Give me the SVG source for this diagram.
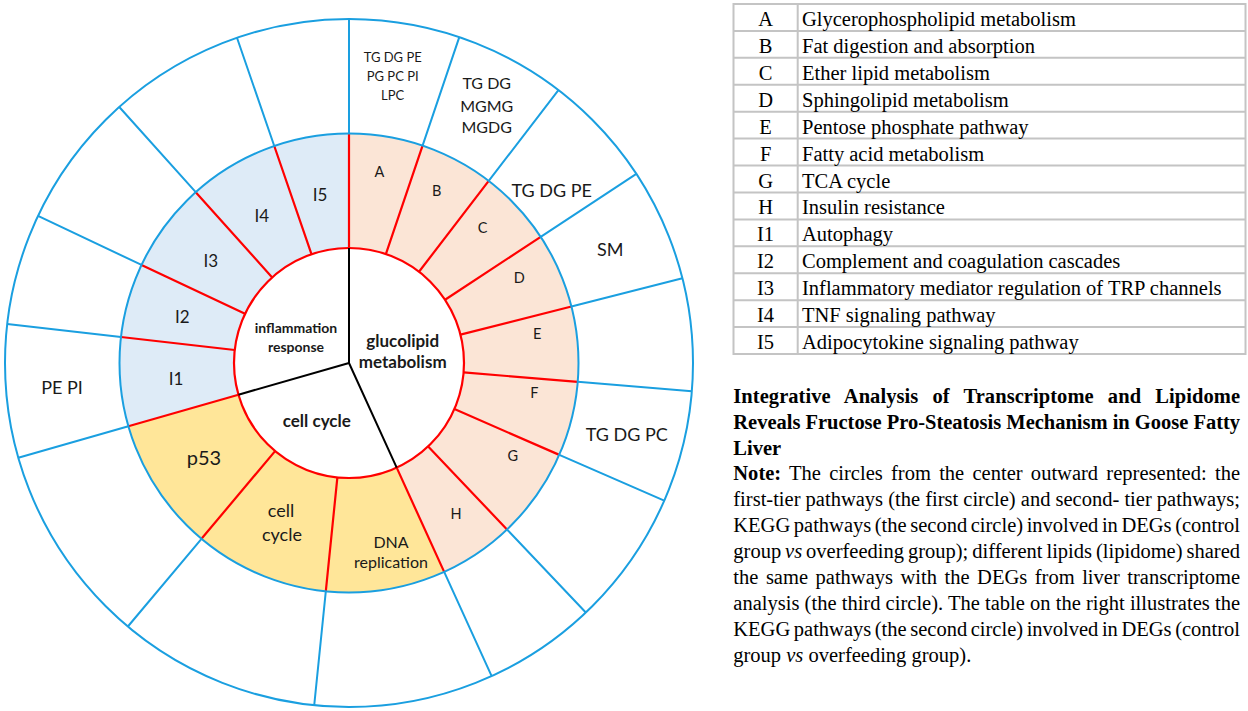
<svg xmlns="http://www.w3.org/2000/svg" width="1248" height="711" viewBox="0 0 1248 711">
<style>
.blue{stroke:#1A9FE0;stroke-width:2;fill:none}
.red{stroke:#FF0000;stroke-width:2.2;fill:none}
.blk{stroke:#000;stroke-width:2;fill:none}
.c{font-family:Lato,"Open Sans","Liberation Sans",sans-serif;fill:#1a1a1a;text-anchor:middle}
.b{font-weight:bold}
.s14{font-size:14.5px}.s17{font-size:17px}
.tb{font-family:"Liberation Serif","Times New Roman",serif;font-size:20.5px;fill:#000}
.tl{text-anchor:middle}
.grid{stroke:#C4C4C4;stroke-width:2;fill:none}
</style>
<rect width="1248" height="711" fill="#fff"/>

<g id="ring-glucolipid">
<path d="M349 133.5 A229.5 229.5 0 0 1 444.17 571.85 L396.69 467.65 A115 115 0 0 0 349 248 Z" fill="#FBE5D6"/>
<text class="c s14" x="379.3" y="176.7">A</text>
<text class="c s14" x="436.7" y="196">B</text>
<text class="c s14" x="482.7" y="233.3">C</text>
<text class="c s14" x="519.3" y="282.7">D</text>
<text class="c s14" x="537.3" y="339">E</text>
<text class="c s14" x="534.3" y="397.7">F</text>
<text class="c s14" x="512.7" y="460.7">G</text>
<text class="c s14" x="456" y="519">H</text>
</g>
<g id="ring-cellcycle">
<path d="M444.17 571.85 A229.5 229.5 0 0 1 128.38 426.25 L238.45 394.69 A115 115 0 0 0 396.69 467.65 Z" fill="#FFE699"/>
<text class="c" font-size="20" x="204" y="465">p53</text>
<text class="c" font-size="18" x="281" y="516.7">cell</text>
<text class="c" font-size="18" x="282" y="540.7">cycle</text>
<text class="c" font-size="16" x="391" y="547.7">DNA</text>
<text class="c" font-size="16" x="391" y="567.7">replication</text>
</g>
<g id="ring-inflammation">
<path d="M128.38 426.25 A229.5 229.5 0 0 1 349 133.5 L349 248 A115 115 0 0 0 238.45 394.69 Z" fill="#DEEBF7"/>
<text class="c s17" x="176" y="385">I1</text>
<text class="c s17" x="182.3" y="323.3">I2</text>
<text class="c s17" x="210.7" y="267.3">I3</text>
<text class="c s17" x="261.7" y="222.3">I4</text>
<text class="c s17" x="320" y="201">I5</text>
</g>

<g id="connectors">
<g class="red">
<path d="M349 248V133.5M385.87 254.07L422.58 145.62M419.01 271.76L488.72 180.91M445.06 299.77L540.7 236.82M460.46 334.69L571.43 306.5M463.61 372.42L577.72 381.8M454.39 409.03L559.31 454.87M428.17 446.42L506.99 529.48M396.69 467.65L444.17 571.85M337.37 477.41L325.8 591.33M275.08 451.09L201.48 538.8M238.45 394.69L128.38 426.25M234.74 349.98L120.97 337.02M245.03 313.85L141.51 264.91M272.2 277.41L195.74 192.18M311.56 254.27L274.27 146"/>
</g>
<g class="blue">
<path d="M349 133.5V19M422.58 145.62L459.29 37.16M488.72 180.91L558.43 90.07M540.7 236.82L636.34 173.87M571.43 306.5L682.4 278.31M577.72 381.8L691.83 391.17M559.31 454.87L664.24 500.7M506.99 529.48L585.81 612.54M444.17 571.85L491.66 676.04M325.8 591.33L314.22 705.25M201.48 538.8L127.88 626.5M128.38 426.25L18.31 457.81M120.97 337.02L7.2 324.06M141.51 264.91L37.99 215.97M195.74 192.18L119.28 106.96M274.27 146L236.99 37.75"/>
<circle cx="349" cy="363" r="344"/>
<circle cx="349" cy="363" r="229.5"/>
</g>
<circle class="red" cx="349" cy="363" r="115"/>
<path class="blk" d="M349 363V248M349 363L396.69 467.65M349 363L238.45 394.69"/>
</g>

<g id="center-glucolipid">
<text class="c b" font-size="17" x="402.7" y="346.7">glucolipid</text>
<text class="c b" font-size="17" x="402.7" y="367.7">metabolism</text>
</g>
<g id="center-inflammation">
<text class="c b" font-size="14" x="296" y="333.3">inflammation</text>
<text class="c b" font-size="14" x="296" y="351.7">response</text>
</g>
<g id="center-cellcycle">
<text class="c b" font-size="17" x="316.8" y="426.7">cell cycle</text>
</g>

<g id="outer-lipids">
<text class="c" font-size="13" x="392.7" y="61.7">TG DG PE</text>
<text class="c" font-size="13" x="392.7" y="80.7">PG PC PI</text>
<text class="c" font-size="13" x="392.7" y="100">LPC</text>
<text class="c" font-size="16" x="486.7" y="89.3">TG DG</text>
<text class="c" font-size="16" x="486.7" y="111.7">MGMG</text>
<text class="c" font-size="16" x="486.7" y="133.3">MGDG</text>
<text class="c" font-size="18" x="551.7" y="197.3">TG DG PE</text>
<text class="c" font-size="18" x="610.3" y="256">SM</text>
<text class="c" font-size="18" x="626.7" y="441">TG DG PC</text>
<text class="c" font-size="18" x="62" y="394.3">PE PI</text>
</g>

<g id="legend-table">
<rect class="grid" x="733.5" y="4" width="512" height="350"/>
<path class="grid" d="M797.7 4V354M733.5 30.92H1245.5M733.5 57.85H1245.5M733.5 84.77H1245.5M733.5 111.69H1245.5M733.5 138.62H1245.5M733.5 165.54H1245.5M733.5 192.46H1245.5M733.5 219.38H1245.5M733.5 246.31H1245.5M733.5 273.23H1245.5M733.5 300.15H1245.5M733.5 327.08H1245.5"/>
<g class="tb tl">
<text x="765.6" y="26">A</text>
<text x="765.6" y="52.9">B</text>
<text x="765.6" y="79.8">C</text>
<text x="765.6" y="106.8">D</text>
<text x="765.6" y="133.7">E</text>
<text x="765.6" y="160.6">F</text>
<text x="765.6" y="187.5">G</text>
<text x="765.6" y="214.4">H</text>
<text x="765.6" y="241.4">I1</text>
<text x="765.6" y="268.3">I2</text>
<text x="765.6" y="295.2">I3</text>
<text x="765.6" y="322.1">I4</text>
<text x="765.6" y="349">I5</text>
</g>
<g class="tb">
<text x="802" y="26">Glycerophospholipid metabolism</text>
<text x="802" y="52.9">Fat digestion and absorption</text>
<text x="802" y="79.8">Ether lipid metabolism</text>
<text x="802" y="106.8">Sphingolipid metabolism</text>
<text x="802" y="133.7">Pentose phosphate pathway</text>
<text x="802" y="160.6">Fatty acid metabolism</text>
<text x="802" y="187.5">TCA cycle</text>
<text x="802" y="214.4">Insulin resistance</text>
<text x="802" y="241.4">Autophagy</text>
<text x="802" y="268.3">Complement and coagulation cascades</text>
<text x="802" y="295.2">Inflammatory mediator regulation of TRP channels</text>
<text x="802" y="322.1">TNF signaling pathway</text>
<text x="802" y="349">Adipocytokine signaling pathway</text>
</g>
</g>

<g id="caption" class="tb">
<text x="733.3" y="402.7" font-weight="bold" word-spacing="9" textLength="506.7" lengthAdjust="spacing">Integrative Analysis of Transcriptome and Lipidome</text>
<text x="733.3" y="428.6" font-weight="bold" textLength="506.7" lengthAdjust="spacing">Reveals Fructose Pro-Steatosis Mechanism in Goose Fatty</text>
<text x="733.3" y="454.5" font-weight="bold">Liver</text>
<text x="733.3" y="480.4" word-spacing="3.1" textLength="506.7" lengthAdjust="spacing"><tspan font-weight="bold">Note:</tspan> The circles from the center outward represented: the</text>
<text x="733.3" y="506.3" textLength="506.7" lengthAdjust="spacing">first-tier pathways (the first circle) and second- tier pathways;</text>
<text x="733.3" y="532.2" word-spacing="-1.5" textLength="506.7" lengthAdjust="spacing">KEGG pathways (the second circle) involved in DEGs (control</text>
<text x="733.3" y="558.1" word-spacing="-1.2" textLength="506.7" lengthAdjust="spacing">group <tspan font-style="italic">vs</tspan> overfeeding group); different lipids (lipidome) shared</text>
<text x="733.3" y="584" word-spacing="2.4" textLength="506.7" lengthAdjust="spacing">the same pathways with the DEGs from liver transcriptome</text>
<text x="733.3" y="609.9" textLength="506.7" lengthAdjust="spacing">analysis (the third circle). The table on the right illustrates the</text>
<text x="733.3" y="635.8" word-spacing="-1.5" textLength="506.7" lengthAdjust="spacing">KEGG pathways (the second circle) involved in DEGs (control</text>
<text x="733.3" y="661.7">group <tspan font-style="italic">vs</tspan> overfeeding group).</text>
</g>
</svg>
